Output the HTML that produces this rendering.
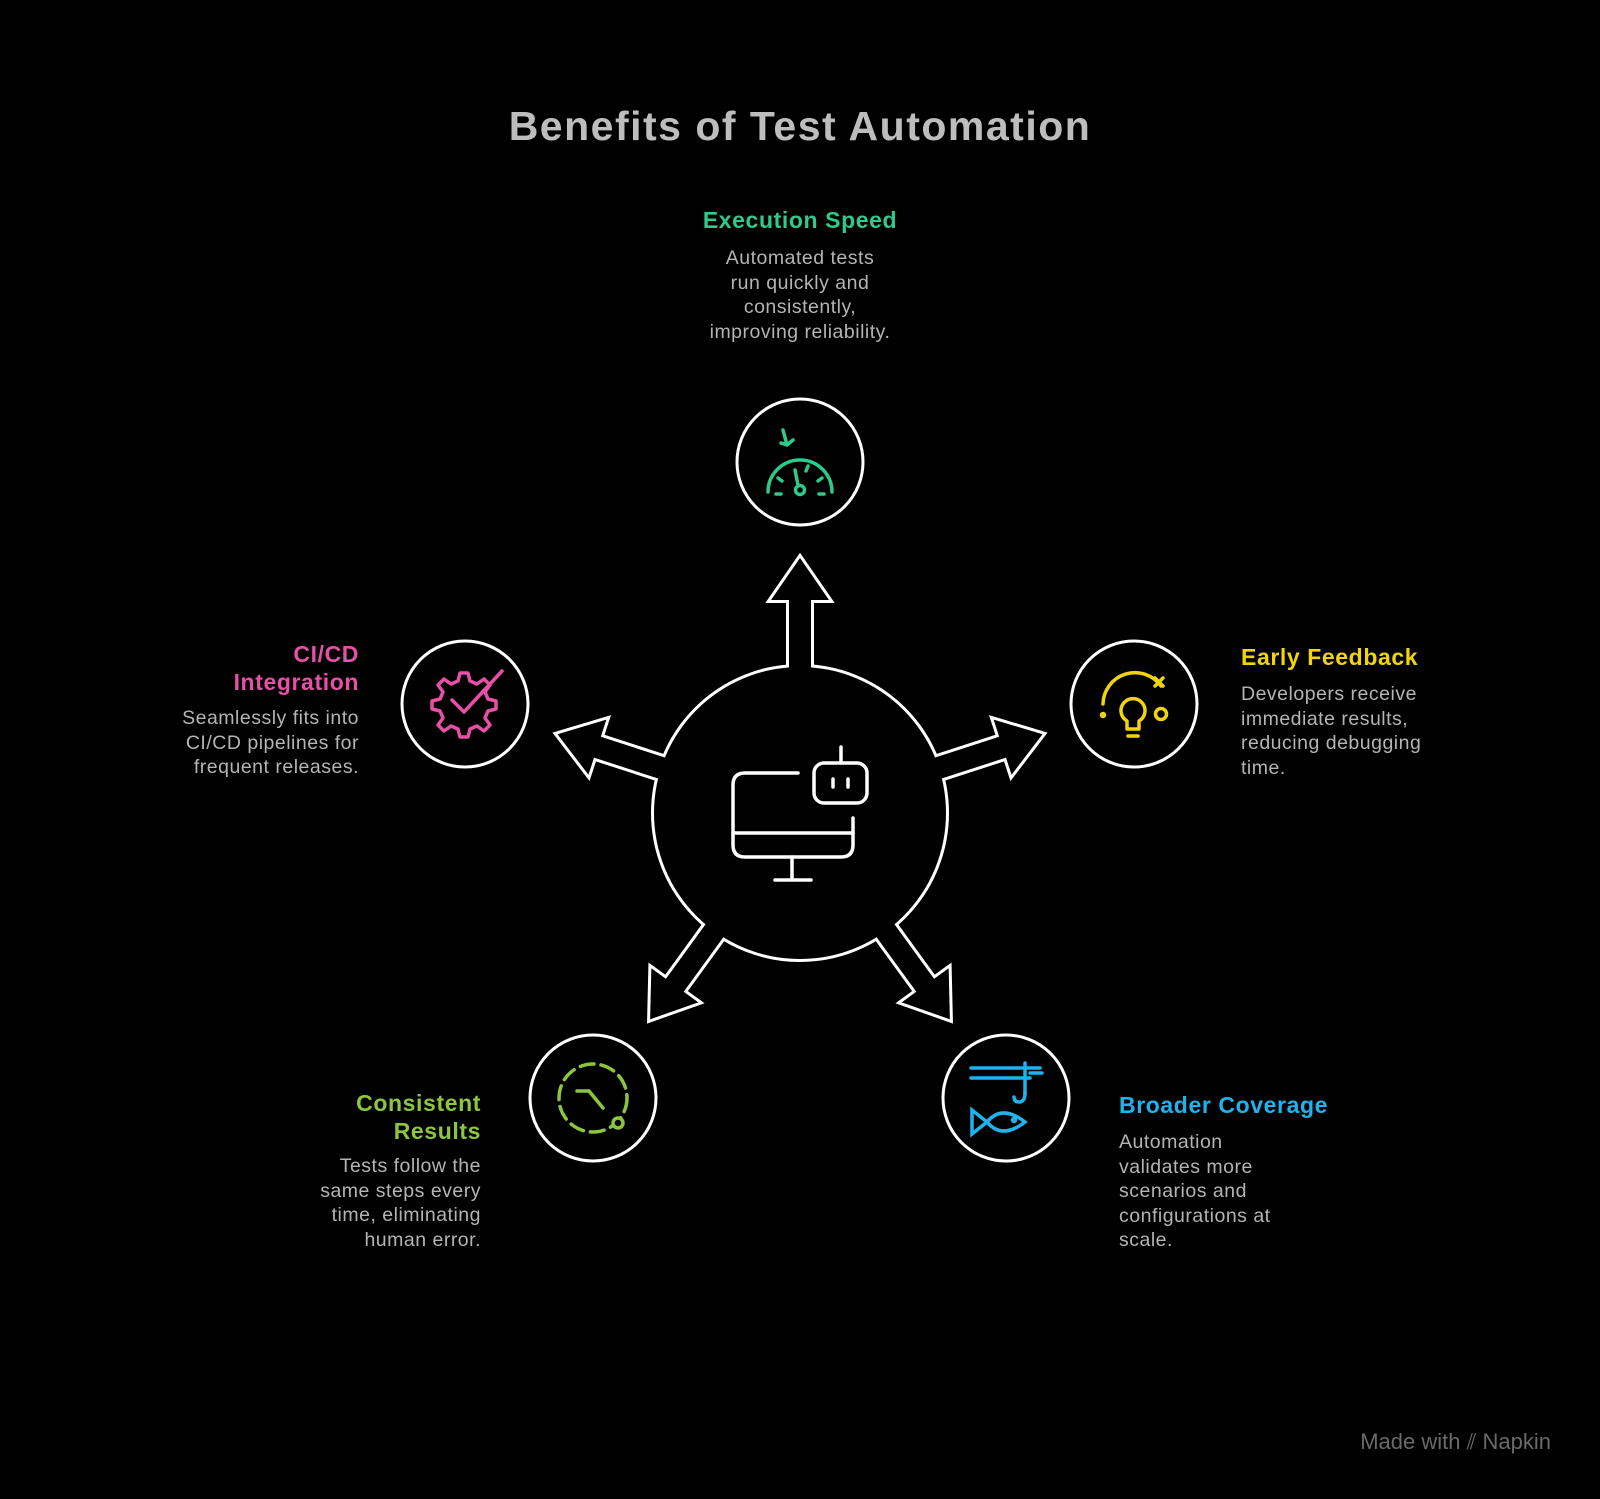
<!DOCTYPE html>
<html><head><meta charset="utf-8"><style>
body{margin:0;background:#000;width:1600px;height:1499px;position:relative;overflow:hidden;font-family:"Liberation Sans",sans-serif}
.t{position:absolute;white-space:nowrap}
.h{font-weight:bold;font-size:23px;line-height:28px;letter-spacing:0.6px}
.b{color:#b4b4b4;font-size:19.5px;line-height:24.5px;letter-spacing:0.5px}
</style></head><body>
<div class="t" style="left:0;width:1600px;text-align:center;top:103px;font-size:41px;font-weight:bold;color:#bdbdbd;letter-spacing:1.5px">Benefits of Test Automation</div>

<div class="t h" style="left:600px;width:400px;text-align:center;top:206px;color:#2fc98a">Execution Speed</div>
<div class="t b" style="left:600px;width:400px;text-align:center;top:246px">Automated tests<br>run quickly and<br>consistently,<br>improving reliability.</div>

<div class="t h" style="right:1241px;text-align:right;top:640px;color:#e84fa6">CI/CD<br>Integration</div>
<div class="t b" style="right:1241px;text-align:right;top:706px">Seamlessly fits into<br>CI/CD pipelines for<br>frequent releases.</div>

<div class="t h" style="left:1241px;top:643px;color:#f2d40c">Early Feedback</div>
<div class="t b" style="left:1241px;top:682px">Developers receive<br>immediate results,<br>reducing debugging<br>time.</div>

<div class="t h" style="right:1119px;text-align:right;top:1089px;color:#8cc63f">Consistent<br>Results</div>
<div class="t b" style="right:1119px;text-align:right;top:1154px">Tests follow the<br>same steps every<br>time, eliminating<br>human error.</div>

<div class="t h" style="left:1119px;top:1091px;color:#1fb3ee">Broader Coverage</div>
<div class="t b" style="left:1119px;top:1130px">Automation<br>validates more<br>scenarios and<br>configurations at<br>scale.</div>

<div class="t" style="right:49px;top:1429px;font-size:22px;color:#6a6a6a">Made with ⫽ Napkin</div>

<svg width="1600" height="1499" style="position:absolute;left:0;top:0">
<defs>
<polygon id="ar" points="-11,0 -11,-213 -29,-213 0,-255 29,-213 11,-213 11,0"/>
</defs>
<g transform="translate(800,813)">
 <g stroke="#fff" stroke-width="6" fill="none" stroke-linejoin="miter">
  <use href="#ar"/>
  <use href="#ar" transform="rotate(72)"/>
  <use href="#ar" transform="rotate(144)"/>
  <use href="#ar" transform="rotate(216)"/>
  <use href="#ar" transform="rotate(288)"/>
  <circle r="146"/>
 </g>
 <g fill="#000">
  <use href="#ar"/>
  <use href="#ar" transform="rotate(72)"/>
  <use href="#ar" transform="rotate(144)"/>
  <use href="#ar" transform="rotate(216)"/>
  <use href="#ar" transform="rotate(288)"/>
  <circle r="146"/>
 </g>
</g>
<g stroke="#fff" stroke-width="3.5" fill="none" stroke-linecap="round" stroke-linejoin="round">
 <path d="M798,773 H745 Q733,773 733,785 V845 Q733,857 745,857 H841 Q853,857 853,845 V818"/>
 <line x1="733" y1="833" x2="853" y2="833"/>
 <line x1="792" y1="857" x2="792" y2="880"/>
 <line x1="775" y1="880" x2="811" y2="880"/>
 <rect x="814" y="763" width="53" height="40" rx="10"/>
 <line x1="841" y1="747" x2="841" y2="763"/>
 <line x1="833" y1="779" x2="833" y2="787"/>
 <line x1="848" y1="779" x2="848" y2="787"/>
</g>
<g stroke="#fff" stroke-width="3" fill="#000">
 <circle cx="800" cy="462" r="63"/>
 <circle cx="465" cy="704" r="63"/>
 <circle cx="1134" cy="704" r="63"/>
 <circle cx="593" cy="1098" r="63"/>
 <circle cx="1006" cy="1098" r="63"/>
</g>
<g stroke="#2fc98a" stroke-width="3.5" fill="none" stroke-linecap="round">
 <path d="M768,492 A32,32 0 0 1 832,492"/>
 <path d="M783,430 L787,445 M781,443 L787,445 L793,440"/>
 <line x1="795" y1="470" x2="798" y2="485"/><circle cx="800" cy="490" r="4.5"/>
 <line x1="778" y1="478" x2="782" y2="481"/><line x1="822" y1="478" x2="818" y2="481"/>
 <line x1="808" y1="466" x2="806" y2="471"/>
 <line x1="776" y1="494" x2="781" y2="494"/><line x1="819" y1="494" x2="824" y2="494"/>
</g>
<g stroke="#e84fa6" stroke-width="3.5" fill="none" stroke-linecap="round" stroke-linejoin="round">
 <path d="M460,673 L468,673 L470,681 L477,684 L484,679 L490,685 L485,692 L488,699 L496,701 L496,709 L488,711 L485,718 L490,725 L484,731 L477,726 L470,729 L468,737 L460,737 L458,729 L451,726 L444,731 L438,725 L443,718 L440,711 L432,709 L432,701 L440,699 L443,692 L438,685 L444,679 L451,684 L458,681 Z"/>
 <path d="M452,700 L464,712 L502,671"/>
</g>
<g stroke="#f2d40c" stroke-width="3.5" fill="none" stroke-linecap="round" stroke-linejoin="round">
 <path d="M1103,704 A32,32 0 0 1 1161,686"/>
 <path d="M1155,678 L1163,686 M1163,678 L1155,686"/>
 <path d="M1127,721 A12,12 0 1 1 1139,721 V729 H1127 Z"/>
 <line x1="1128" y1="736" x2="1138" y2="736"/>
 <circle cx="1161" cy="714" r="5.5"/>
 <circle cx="1103" cy="715" r="1.5"/>
</g>
<g stroke="#8cc63f" stroke-width="3.5" fill="none" stroke-linecap="round">
 <circle cx="593" cy="1098" r="34" stroke-dasharray="14 7"/>
 <path d="M577,1091 L589,1091 L603,1108"/>
 <circle cx="618" cy="1123" r="5" fill="#000"/>
</g>
<g stroke="#1fb3ee" stroke-width="3.5" fill="none" stroke-linecap="round">
 <line x1="971" y1="1068" x2="1040" y2="1068"/>
 <line x1="971" y1="1078" x2="1030" y2="1078"/>
 <line x1="1025" y1="1063" x2="1025" y2="1093"/>
 <line x1="1030" y1="1073" x2="1042" y2="1073"/>
 <path d="M1025,1093 Q1025,1102 1019,1102 Q1014,1102 1014,1097"/>
 <path d="M987,1122 Q1002,1104 1025,1122 Q1002,1140 987,1122 Z"/>
 <path d="M987,1122 L972,1110 L972,1134 Z"/>
 <circle cx="1014" cy="1120" r="1.5"/>
</g>
</svg>
</body></html>
